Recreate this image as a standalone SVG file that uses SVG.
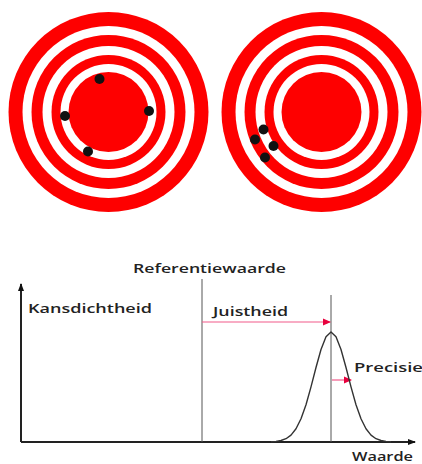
<svg xmlns="http://www.w3.org/2000/svg" width="422" height="464" viewBox="0 0 422 464">
<defs>
<style>
.red{fill:#fe0000}
.wht{fill:#ffffff}
.dot{fill:#111}
.lbl{font-family:"Open Sans","DejaVu Sans",sans-serif;font-weight:600;font-size:13px;fill:#222}
.axis{stroke:#222;stroke-width:2;fill:none}
.thin{stroke:#555;stroke-width:1;fill:none}
.pink{stroke:#f25a8a;stroke-width:1.2;fill:none}
</style>
<marker id="ah" markerWidth="8" markerHeight="8" refX="7" refY="4" orient="auto" markerUnits="userSpaceOnUse">
<path d="M0,1 L8,4 L0,7 Z" fill="#111"/>
</marker>
<marker id="ph" markerWidth="8" markerHeight="8" refX="7" refY="4" orient="auto" markerUnits="userSpaceOnUse">
<path d="M0,0.5 L8,4 L0,7.5 Z" fill="#e8003d"/>
</marker>
<g id="target">
<circle r="100" class="red"/>
<circle r="86" class="wht"/>
<circle r="77" class="red"/>
<circle r="66" class="wht"/>
<circle r="57" class="red"/>
<circle r="48" class="wht"/>
<circle r="40" class="red"/>
</g>
</defs>
<rect width="422" height="464" fill="#ffffff"/>
<g id="target-left">
<use href="#target" x="108.5" y="112"/>
<circle cx="99.5" cy="79" r="5" class="dot"/>
<circle cx="65" cy="116" r="5" class="dot"/>
<circle cx="149" cy="111" r="5" class="dot"/>
<circle cx="88" cy="151.5" r="5" class="dot"/>
</g>
<g id="target-right">
<use href="#target" x="321.5" y="112"/>
<circle cx="263.5" cy="129.5" r="5" class="dot"/>
<circle cx="255" cy="139.5" r="5" class="dot"/>
<circle cx="273.5" cy="146" r="5" class="dot"/>
<circle cx="265" cy="157.5" r="5" class="dot"/>
</g>
<g id="connectors">
<line class="axis" x1="21" y1="442" x2="21" y2="284" marker-end="url(#ah)"/>
<line class="axis" x1="21" y1="442" x2="415" y2="442" marker-end="url(#ah)"/>
<line class="thin" x1="202" y1="279" x2="202" y2="442"/>
<line class="thin" x1="331" y1="295" x2="331" y2="442"/>
<line class="pink" x1="202" y1="322" x2="330" y2="322" marker-end="url(#ph)"/>
<line class="pink" x1="332" y1="380" x2="351" y2="380" marker-end="url(#ph)"/>
</g>
<g id="curve">
<polyline fill="none" stroke="#333" stroke-width="1.4" stroke-linejoin="round" points="271,441.8 276,441.4 281,440.5 286,438.7 291,435.1 296,428.8 301,418.8 306,404.7 311,386.9 316,367.5 321,349.5 326,336.7 331,332 336,336.7 341,349.5 346,367.5 351,386.9 356,404.7 361,418.8 366,428.8 371,435.1 376,438.7 381,440.5 386,441.4 391,441.8"/>
</g>
<g id="labels">
<text class="lbl" x="133" y="273" textLength="153" lengthAdjust="spacingAndGlyphs">Referentiewaarde</text>
<text class="lbl" x="28" y="313" textLength="124" lengthAdjust="spacingAndGlyphs">Kansdichtheid</text>
<text class="lbl" x="213" y="316" textLength="75" lengthAdjust="spacingAndGlyphs">Juistheid</text>
<text class="lbl" x="354" y="372" textLength="69" lengthAdjust="spacingAndGlyphs">Precisie</text>
<text class="lbl" x="352" y="461" textLength="61" lengthAdjust="spacingAndGlyphs">Waarde</text>
</g>
</svg>
